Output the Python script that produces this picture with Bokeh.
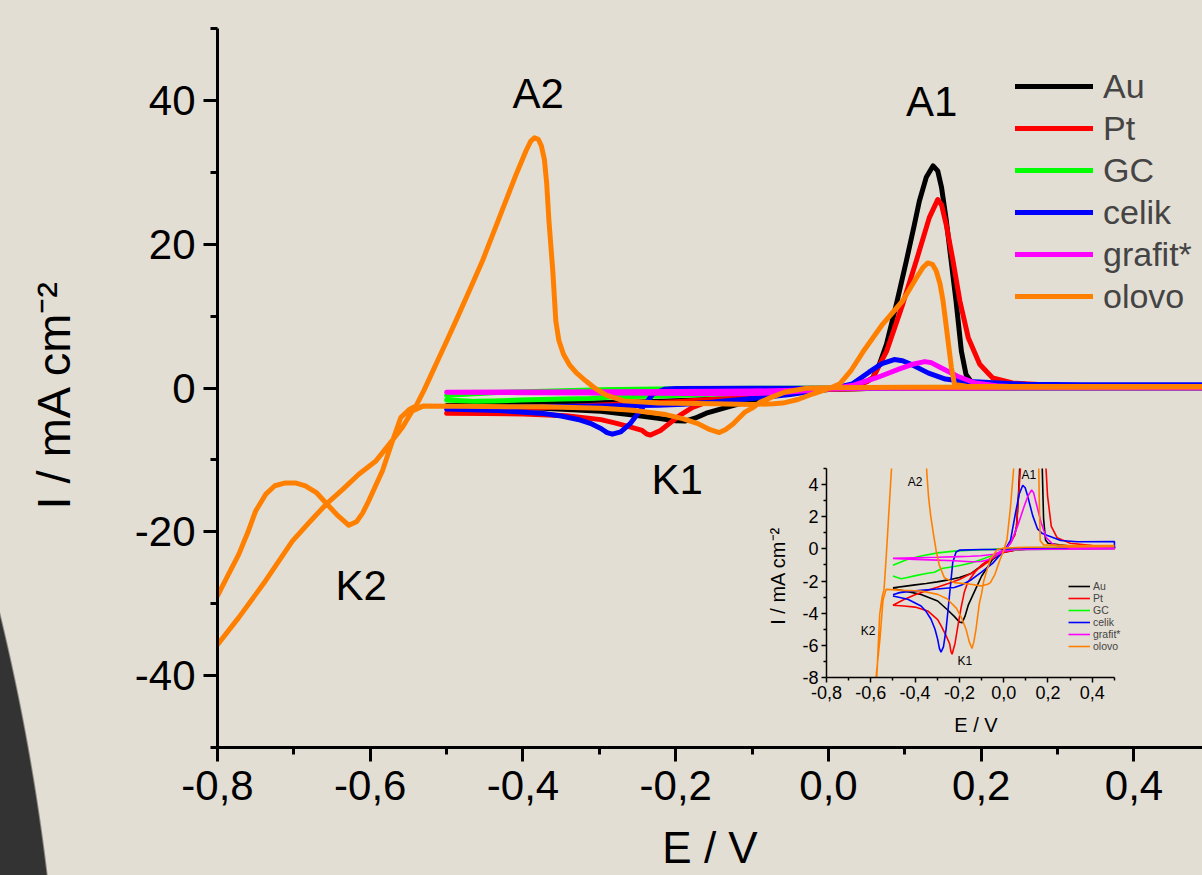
from bokeh.plotting import figure
from bokeh.models import (Range1d, FixedTicker, CustomJSTickFormatter, Legend,
                          LegendItem, Label)
from bokeh.embed import file_html
from bokeh.resources import INLINE

BG = "#e3ded3"
FONT = "Liberation Sans"
NAN = float("nan")

names = ["Au", "Pt", "GC", "celik", "grafit*", "olovo"]
colors = ["#000000", "#ff0000", "#00ff00", "#0000ff", "#ff00ff", "#ff8000"]

# ---- data: potential E / V and current density I / mA cm^-2 (loop traced) ----
au_E = [-0.50, -0.45, -0.40, -0.35, -0.30, -0.25, -0.20, -0.15, -0.10, -0.05, 0.00, 0.03, 0.05, 0.058,
        0.067, 0.076, 0.089, 0.102, 0.112, 0.119, 0.128, 0.137, 0.143, 0.148, 0.154, 0.159, 0.167,
        0.174, 0.180, 0.189, 0.20, 0.25, 0.30, 0.40, 0.50,
        0.50, 0.40, 0.30, 0.20, 0.10, 0.05, 0.00, -0.05, -0.10, -0.13, -0.16, -0.175, -0.188, -0.20,
        -0.223, -0.253, -0.298, -0.373, -0.449, -0.50]
au_I = [-2.42, -2.33, -2.24, -2.15, -2.05, -1.93, -1.78, -1.55, -1.05, -0.55, -0.10, 0.35, 0.90, 1.4,
        3.4, 6.1, 11.7, 17.7, 22.5, 26.0, 29.3, 30.9, 30.2, 27.9, 23.5, 19.1, 12.1,
        5.1, 1.9, 0.55, 0.35, 0.25, 0.18, 0.13, 0.10,
        0.04, 0.03, 0.02, 0.01, -0.02, -0.08, -0.20, -0.65, -1.70, -2.60, -3.50, -4.20, -4.60, -4.55,
        -4.20, -3.80, -3.24, -2.83, -2.62, -2.47]

pt_E = [-0.50, -0.45, -0.40, -0.35, -0.30, -0.25, -0.20, -0.15, -0.10, -0.05, 0.00, 0.03, 0.05, 0.058,
        0.076, 0.097, 0.115, 0.132, 0.143, 0.148, 0.154, 0.163, 0.172, 0.183, 0.198, 0.215, 0.241,
        0.30, 0.40, 0.50,
        0.50, 0.30, 0.10, 0.05, 0.00, -0.05, -0.10, -0.13, -0.148, -0.163, -0.178, -0.193, -0.208,
        -0.22, -0.233, -0.238, -0.244, -0.26, -0.28, -0.298, -0.343, -0.40, -0.45, -0.50]
pt_I = [-3.51, -3.15, -2.85, -2.60, -2.38, -2.15, -1.90, -1.55, -1.10, -0.60, -0.10, 0.35, 0.85, 1.4,
        5.1, 11.6, 17.7, 23.7, 26.2, 25.5, 22.8, 17.7, 12.1, 7.0, 3.3, 1.4, 0.7,
        0.35, 0.20, 0.15,
        0.04, 0.02, -0.02, -0.08, -0.22, -0.50, -1.00, -1.45, -1.80, -2.10, -2.70, -3.70, -4.90,
        -5.90, -6.55, -6.40, -5.90, -5.40, -4.85, -4.40, -3.86, -3.62, -3.55, -3.51]

gc_E = [-0.50, -0.433, -0.373, -0.298, -0.223, -0.148, -0.05, 0.00, 0.10, 0.30, 0.50,
        0.50, 0.30, 0.10, 0.00, -0.043, -0.103, -0.148, -0.193, -0.223, -0.279, -0.313, -0.35,
        -0.403, -0.44, -0.463, -0.48, -0.50]
gc_I = [-1.02, -0.64, -0.44, -0.25, -0.14, -0.08, -0.03, 0.00, 0.07, 0.10, 0.12,
        0.00, -0.02, -0.04, -0.10, -0.37, -0.67, -0.88, -1.02, -1.10, -1.22, -1.45, -1.53,
        -1.68, -1.80, -1.86, -1.78, -1.68]

celik_E = [-0.50, -0.47, -0.433, -0.373, -0.30, -0.223, -0.19, -0.15, -0.10, -0.05, 0.00, 0.01, 0.031,
           0.053, 0.07, 0.086, 0.097, 0.108, 0.131, 0.153, 0.175, 0.198, 0.258, 0.333, 0.50,
           0.50, 0.30, 0.10, 0.00, -0.10, -0.20, -0.215, -0.23, -0.245, -0.26, -0.272, -0.283,
           -0.29, -0.298, -0.31, -0.328, -0.35, -0.373, -0.433, -0.50]
celik_I = [-2.85, -2.72, -2.66, -2.58, -2.50, -2.40, -2.25, -1.95, -1.45, -0.90, -0.12, 0.05, 0.55,
           2.20, 3.40, 3.96, 3.80, 3.30, 2.07, 1.24, 0.95, 0.83, 0.52, 0.44, 0.46,
           0.05, 0.04, 0.02, -0.02, -0.04, -0.08, -0.19, -0.85, -2.93, -5.00, -6.10, -6.42,
           -6.20, -5.63, -5.00, -4.38, -3.90, -3.55, -3.13, -2.93]

grafit_E = [-0.50, -0.40, -0.30, -0.20, -0.15, -0.103, -0.043, 0.00, 0.01, 0.033, 0.063, 0.093, 0.11,
            0.126, 0.135, 0.146, 0.169, 0.192, 0.22, 0.244, 0.30, 0.50,
            0.50, 0.20, 0.05, 0.00, -0.03, -0.06, -0.103, -0.148, -0.223, -0.30, -0.40, -0.50]
grafit_I = [-0.58, -0.55, -0.52, -0.48, -0.46, -0.43, -0.33, -0.08, 0.00, 0.39, 1.43, 2.67, 3.30,
            3.67, 3.50, 2.88, 1.64, 0.70, 0.32, 0.18, 0.08, 0.05,
            0.00, -0.02, -0.05, -0.15, -0.39, -0.64, -0.78, -0.80, -0.74, -0.70, -0.65, -0.60]

olovo_E = [0.50, 0.30, 0.10, 0.00, -0.03, -0.058, -0.075, -0.09, -0.10, -0.11, -0.125, -0.135,
           -0.143, -0.155, -0.17, -0.19, -0.213, -0.256, -0.298, -0.373, -0.449, -0.531, -0.545,
           -0.558, -0.575, -0.593, -0.615, -0.636, -0.658, -0.680, -0.702, -0.737, -0.772, -0.80, NAN,
           -0.80, -0.786, -0.772, -0.760, -0.750, -0.737, -0.725, -0.711, -0.698, -0.685, -0.670,
           -0.658, -0.642, -0.628, -0.618, -0.610, -0.602, -0.593, -0.584, -0.571, -0.560, -0.549,
           -0.540, -0.530, -0.520, -0.510, -0.500, -0.488, -0.470, -0.453, -0.431, -0.409, -0.396,
           -0.390, -0.385, -0.380, -0.376, -0.372, -0.369, -0.366, -0.361, -0.357, -0.353, -0.347,
           -0.339, -0.330, -0.318, -0.305, -0.291, -0.268, -0.223, -0.148,
           -0.103, -0.072, -0.06, -0.04, -0.02, 0.00, 0.015, 0.03, 0.045, 0.071, 0.097, 0.115,
           0.124, 0.130, 0.136, 0.141, 0.146, 0.150, 0.156, 0.161, 0.165, 0.18, 0.30, 0.50]
olovo_I = [0.15, 0.12, 0.10, 0.05, -0.05, -0.60, -1.30, -2.00, -2.80, -3.40, -5.00, -5.80,
           -6.20, -5.80, -5.00, -4.30, -3.70, -3.10, -2.83, -2.62, -2.58, -2.52, -3.20,
           -5.50, -7.80, -10.20, -12.00, -14.10, -16.20, -18.70, -21.30, -26.80, -31.90, -35.70, NAN,
           -28.90, -26.00, -23.10, -20.00, -17.10, -14.80, -13.60, -13.20, -13.20, -13.60, -14.60,
           -16.00, -17.80, -19.10, -18.60, -17.40, -15.70, -13.60, -11.50, -7.40, -4.10, -3.00,
           -2.50, -0.40, 1.90, 4.20, 6.50, 9.30, 13.60, 17.70, 23.70, 29.70, 33.00,
           34.30, 34.80, 34.60, 33.70, 31.80, 28.50, 23.20, 16.30, 9.30, 6.60, 4.70,
           3.20, 2.10, 1.00, -0.10, -1.00, -1.79, -2.10, -2.20,
           -2.30, -2.20, -2.10, -1.60, -0.80, -0.10, 0.60, 2.50, 5.00, 8.90, 12.10, 15.30,
           16.80, 17.40, 17.20, 16.30, 14.50, 12.10, 7.00, 2.80, 0.50, 0.25, 0.20, 0.20]

series_E = [au_E, pt_E, gc_E, celik_E, grafit_E, olovo_E]
series_I = [au_I, pt_I, gc_I, celik_I, grafit_I, olovo_I]

# axis ticks
x_major = [-0.8, -0.6, -0.4, -0.2, 0.0, 0.2, 0.4]
x_minor = [-0.7, -0.5, -0.3, -0.1, 0.1, 0.3, 0.5]
y_major = [-40, -20, 0, 20, 40]
y_minor = [-50, -30, -10, 10, 30, 50]
ins_y_major = [-8, -6, -4, -2, 0, 2, 4]
ins_y_minor = [-7, -5, -3, -1, 1, 3, 5]

# peak labels
peak_text = ["A2", "A1", "K1", "K2"]
peak_E = [-0.380, 0.135, -0.198, -0.612]
peak_I = [41.0, 39.9, -12.7, -27.4]
ins_peak_E = [-0.40, 0.114, -0.175, -0.612]
ins_peak_I = [4.19, 4.57, -6.95, -5.09]

comma_fmt = CustomJSTickFormatter(code="return tick.toFixed(1).replace('.', ',');")
int_fmt = CustomJSTickFormatter(code="return tick.toFixed(0);")


def style_axes(fig, tick_px, label_px, axis_w, maj_out, min_out):
    for ax in (fig.xaxis, fig.yaxis):
        ax.axis_line_width = axis_w
        ax.major_tick_line_width = axis_w
        ax.minor_tick_line_width = axis_w
        ax.major_tick_in = 0
        ax.minor_tick_in = 0
        ax.major_tick_out = maj_out
        ax.minor_tick_out = min_out
        ax.major_label_text_font = FONT
        ax.major_label_text_font_size = tick_px
        ax.major_label_text_color = "black"
        ax.axis_label_text_font = FONT
        ax.axis_label_text_font_size = label_px
        ax.axis_label_text_font_style = "normal"
        ax.axis_label_text_color = "black"
    fig.xgrid.visible = False
    fig.ygrid.visible = False
    fig.outline_line_color = None


# ---------------- main figure ----------------
p = figure(width=1202, height=875, x_range=Range1d(-0.8, 0.4897), y_range=Range1d(-50, 50),
           output_backend="svg", toolbar_location=None,
           min_border_left=217, min_border_right=0, min_border_top=28, min_border_bottom=128,
           background_fill_color=None, border_fill_color=None)
p.styles = {
    "position": "absolute", "left": "0px", "top": "0px",
    "background": "radial-gradient(circle 2227px at -2163px 1140px, #333333 2225px, "
                  "rgba(0,0,0,0) 2227px), " + BG,
}
style_axes(p, "42px", "47px", 3, 14, 7)
p.xaxis.axis_label_text_font_size = "44px"
p.xaxis.major_label_standoff = 9
p.xaxis.axis_label_standoff = 20
p.yaxis.major_label_standoff = 8
p.yaxis.axis_label_standoff = 52
p.xaxis.ticker = FixedTicker(ticks=x_major, minor_ticks=x_minor)
p.yaxis.ticker = FixedTicker(ticks=y_major, minor_ticks=y_minor)
p.xaxis.formatter = comma_fmt
p.yaxis.formatter = int_fmt
p.xaxis.axis_label = "E / V"
p.yaxis.axis_label = "I  / mA cm\u207b\u00b2"

renderers = []
for E, I, c in zip(series_E, series_I, colors):
    r = p.line(E, I, line_color=c, line_width=5, line_join="round", line_cap="round")
    renderers.append(r)

legend = Legend(items=[LegendItem(label=n, renderers=[r]) for n, r in zip(names, renderers)],
                location=(798, 430), glyph_width=78, glyph_height=42, label_height=42,
                label_standoff=10, spacing=0, padding=0, margin=0,
                border_line_color=None, background_fill_alpha=0,
                label_text_font=FONT, label_text_font_size="34px")
p.add_layout(legend)

for t, x, y in zip(peak_text, peak_E, peak_I):
    p.add_layout(Label(x=x, y=y, text=t, text_align="center", text_baseline="middle",
                       text_font=FONT, text_font_size="42px", text_color="black"))

# ---------------- inset figure ----------------
# the frame reaches a little past 0.5 so that the legend text is not clipped;
# the x axis itself is bounded to -0.8 ... 0.5
ins = figure(width=400, height=290, x_range=Range1d(-0.8, 0.55), y_range=Range1d(-8, 5),
             output_backend="svg", toolbar_location=None,
             min_border_left=81, min_border_right=20, min_border_top=13, min_border_bottom=68,
             background_fill_color=None, border_fill_color=None)
ins.styles = {"position": "absolute", "left": "745px", "top": "455px"}
style_axes(ins, "18px", "20px", 1.5, 5, 3)
for ax in (ins.xaxis, ins.yaxis):
    ax.major_label_standoff = 3
ins.xaxis.bounds = (-0.8, 0.5)
ins.xaxis.axis_label_standoff = 12
ins.yaxis.axis_label_standoff = 10
ins.xaxis.ticker = FixedTicker(ticks=x_major, minor_ticks=x_minor)
ins.yaxis.ticker = FixedTicker(ticks=ins_y_major, minor_ticks=ins_y_minor)
ins.xaxis.formatter = comma_fmt
ins.yaxis.formatter = int_fmt
ins.xaxis.axis_label = "E / V"
ins.yaxis.axis_label = "I  / mA cm\u207b\u00b2"

ins_r = []
for E, I, c in zip(series_E, series_I, colors):
    ins_r.append(ins.line(E, I, line_color=c, line_width=1.6))

ins_legend = Legend(items=[LegendItem(label=n, renderers=[r]) for n, r in zip(names, ins_r)],
                    location=(242, 25), glyph_width=22, glyph_height=12, label_height=12,
                    label_standoff=3, spacing=0, padding=0, margin=0,
                    border_line_color=None, background_fill_alpha=0,
                    label_text_font=FONT, label_text_font_size="10.5px")
ins.add_layout(ins_legend)

for t, x, y in zip(peak_text, ins_peak_E, ins_peak_I):
    ins.add_layout(Label(x=x, y=y, text=t, text_align="center", text_baseline="middle",
                         text_font=FONT, text_font_size="12px", text_color="black"))

open("out.html", "w").write(file_html([p, ins], INLINE))
